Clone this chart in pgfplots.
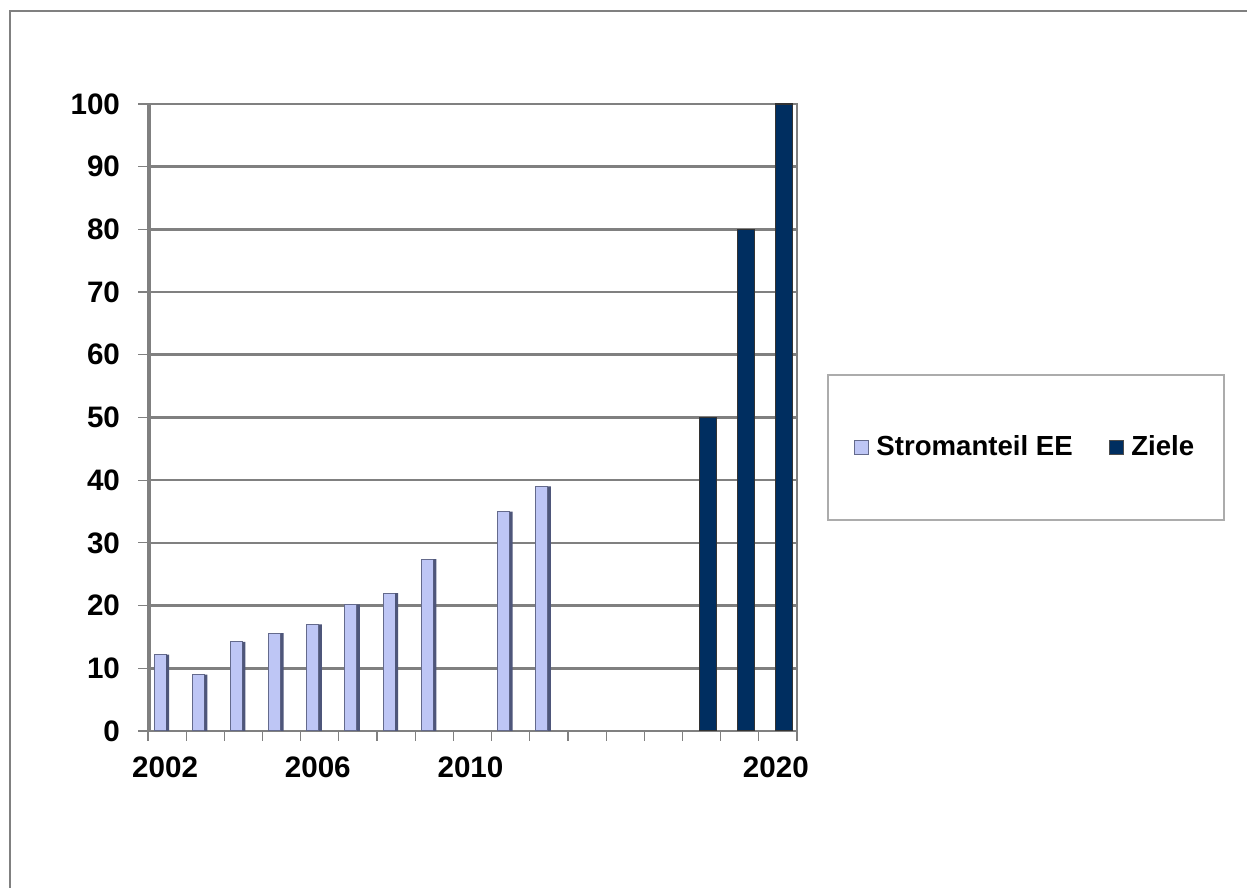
\documentclass[border=0pt]{standalone}
\usepackage{fontspec}
\setmainfont{Liberation Sans}
\usepackage{pgfplots}
\pgfplotsset{compat=1.18}
\definecolor{lightbar}{RGB}{190,198,245}
\definecolor{lightside}{RGB}{78,86,122}
\definecolor{lightedge}{RGB}{100,106,140}
\definecolor{navy}{RGB}{0,46,96}
\definecolor{gridgray}{RGB}{128,128,128}
\begin{document}
\begin{tikzpicture}
\useasboundingbox (0,0) rectangle (623.5pt,444pt);
\fill[white] (0,0) rectangle (623.5pt,444pt);
\draw[gridgray, line width=1pt] (5pt,0) -- (5pt,438.5pt) -- (623.5pt,438.5pt);
\draw[gray!65, line width=0.7pt] (414pt,184pt) rectangle (612pt,256.5pt);
\begin{axis}[
  at={(74pt,78.5pt)}, anchor=south west,
  scale only axis, width=324.5pt, height=313.5pt,
  xmin=-0.5, xmax=16.5, ymin=0, ymax=100,
  ytick={0,10,...,100},
  xtick={0,4,8,16}, xticklabels={2002,2006,2010,2020},
  minor xtick={-0.5,0.5,...,16.5},
  xtick pos=bottom, ytick pos=left,
  tick align=outside,
  major x tick style={draw=none},
  minor x tick style={gridgray, line width=0.6pt},
  minor tick length=5pt,
  major tick length=5pt,
  y tick style={gridgray, line width=0.6pt},
  ymajorgrids,
  major grid style={gridgray, line width=1.3pt},
  axis line style={gridgray, line width=1.3pt},
  tick label style={font=\fontsize{14.8}{16}\selectfont\bfseries},
  /pgf/number format/assume math mode=true,
  yticklabel style={xshift=-5.5pt},
  xticklabel style={yshift=-4.5pt, xshift=-1pt},
  legend style={at={(1.3529,0.4522)}, anchor=center, draw=none, fill=none,
    font=\fontsize{13.8}{16}\selectfont\bfseries, legend columns=2,
    /tikz/every even column/.append style={column sep=16pt},
    /tikz/every odd column/.append style={column sep=1.5pt}},
]
\addplot[ybar, bar width=0.314, bar shift=-0.183, fill=lightbar, draw=lightedge, line width=0.5pt,
  legend image code/.code={\draw[fill=lightbar, draw=lightedge, line width=0.6pt] (0pt,-3.6pt) rectangle (7.2pt,3.6pt);}]
  coordinates {(0,12.2) (1,9.0) (2,14.2) (3,15.6) (4,17.0) (5,20.2) (6,22.0) (7,27.4) (9,35.0) (10,39.0)};
\addlegendentry{Stromanteil EE}
\addplot[ybar, bar width=0.445, bar shift=0.16, fill=navy, draw=black!80, line width=0.6pt,
  legend image code/.code={\draw[fill=navy, draw=black!70, line width=0.6pt] (0pt,-3.6pt) rectangle (7.2pt,3.6pt);}]
  coordinates {(14,50) (15,80) (16,100)};
\addlegendentry{Ziele}
\addplot[ybar, bar width=0.079, bar shift=0.013, fill=lightside, draw=none, forget plot]
  coordinates {(0,12.2) (1,9.0) (2,14.2) (3,15.6) (4,17.0) (5,20.2) (6,22.0) (7,27.4) (9,35.0) (10,39.0)};
\draw[gridgray, line width=3pt] (rel axis cs:0,0) -- (rel axis cs:0,1);
\end{axis}
\end{tikzpicture}
\end{document}
